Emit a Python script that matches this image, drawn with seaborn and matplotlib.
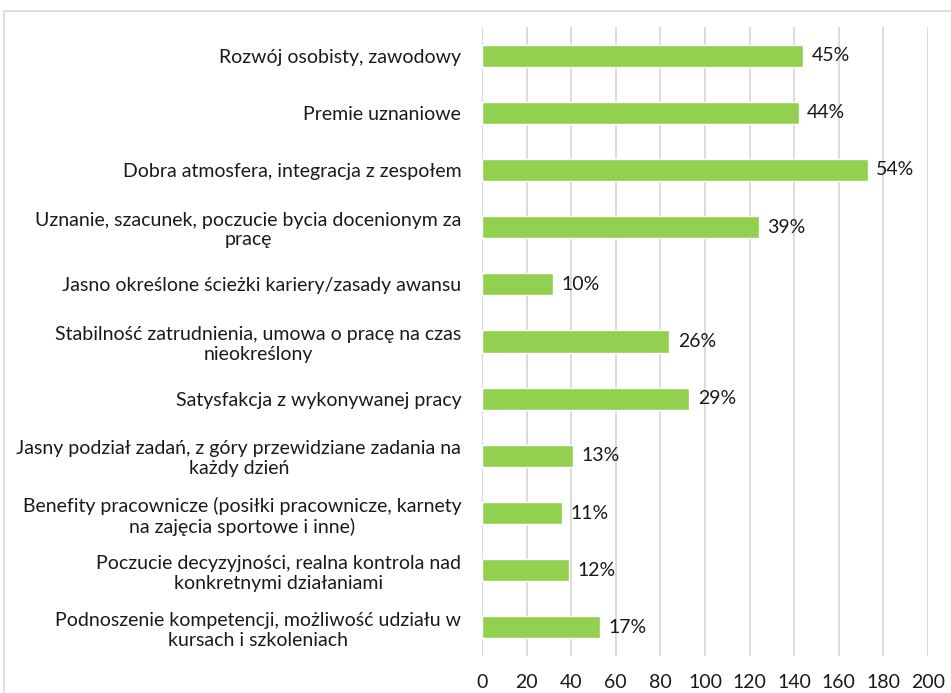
import matplotlib
matplotlib.use("Agg")
import matplotlib.pyplot as plt
import seaborn as sns
import pandas as pd
from matplotlib.patches import Rectangle

categories = [
    "Rozwój osobisty, zawodowy",
    "Premie uznaniowe",
    "Dobra atmosfera, integracja z zespołem",
    "Uznanie, szacunek, poczucie bycia docenionym za\npracę",
    "Jasno określone ścieżki kariery/zasady awansu",
    "Stabilność zatrudnienia, umowa o pracę na czas\nnieokreślony",
    "Satysfakcja z wykonywanej pracy",
    "Jasny podział zadań, z góry przewidziane zadania na\nkażdy dzień",
    "Benefity pracownicze (posiłki pracownicze, karnety\nna zajęcia sportowe i inne)",
    "Poczucie decyzyjności, realna kontrola nad\nkonkretnymi działaniami",
    "Podnoszenie kompetencji, możliwość udziału w\nkursach i szkoleniach",
]
values = [144, 142, 173, 124, 32, 84, 93, 41, 36, 39, 53]
pct_labels = ["45%", "44%", "54%", "39%", "10%", "26%", "29%", "13%", "11%", "12%", "17%"]
x_ticks = [0, 20, 40, 60, 80, 100, 120, 140, 160, 180, 200]

sns.set_theme(style="white")
plt.rcParams["font.family"] = ["Lato", "DejaVu Sans"]

df = pd.DataFrame({"cat": categories, "val": values})

fig = plt.figure(figsize=(9.51, 6.93), dpi=100)
ax = fig.add_axes([482 / 951, 1 - 656 / 693, (928 - 482) / 951, (656 - 27) / 693])

sns.barplot(data=df, x="val", y="cat", orient="h", color="#92D050",
            width=0.385, saturation=1, ax=ax, zorder=3)

FS = 14
ax.set_xlim(0, 200)
ax.set_ylim(10.5, -0.5)
ax.set_xticks(x_ticks)
ax.set_xticklabels([str(t) for t in x_ticks], fontsize=FS, color="#1a1a1a")
ax.tick_params(axis="x", length=0, pad=13)
ax.tick_params(axis="y", length=0, pad=15)
for lab in ax.get_yticklabels():
    lab.set_fontsize(FS)
    lab.set_color("#1a1a1a")
    lab.set_multialignment("center")
ax.set_xlabel("")
ax.set_ylabel("")
ax.xaxis.grid(True, color="#D9D9D9", linewidth=1.3, zorder=0)
ax.set_axisbelow(True)
for s in ax.spines.values():
    s.set_visible(False)

for i, (v, p) in enumerate(zip(values, pct_labels)):
    ax.annotate(p, xy=(v, i), xytext=(6, 0), textcoords="offset points",
                va="center", ha="left", fontsize=FS, color="#1a1a1a")

fig.patches.append(Rectangle((4 / 951, -0.1), 1.2, 1 - 11 / 693 + 0.1,
                             transform=fig.transFigure, fill=False,
                             edgecolor="#D9D9D9", linewidth=1.2, zorder=0))

fig.savefig("out.png", dpi=100)
